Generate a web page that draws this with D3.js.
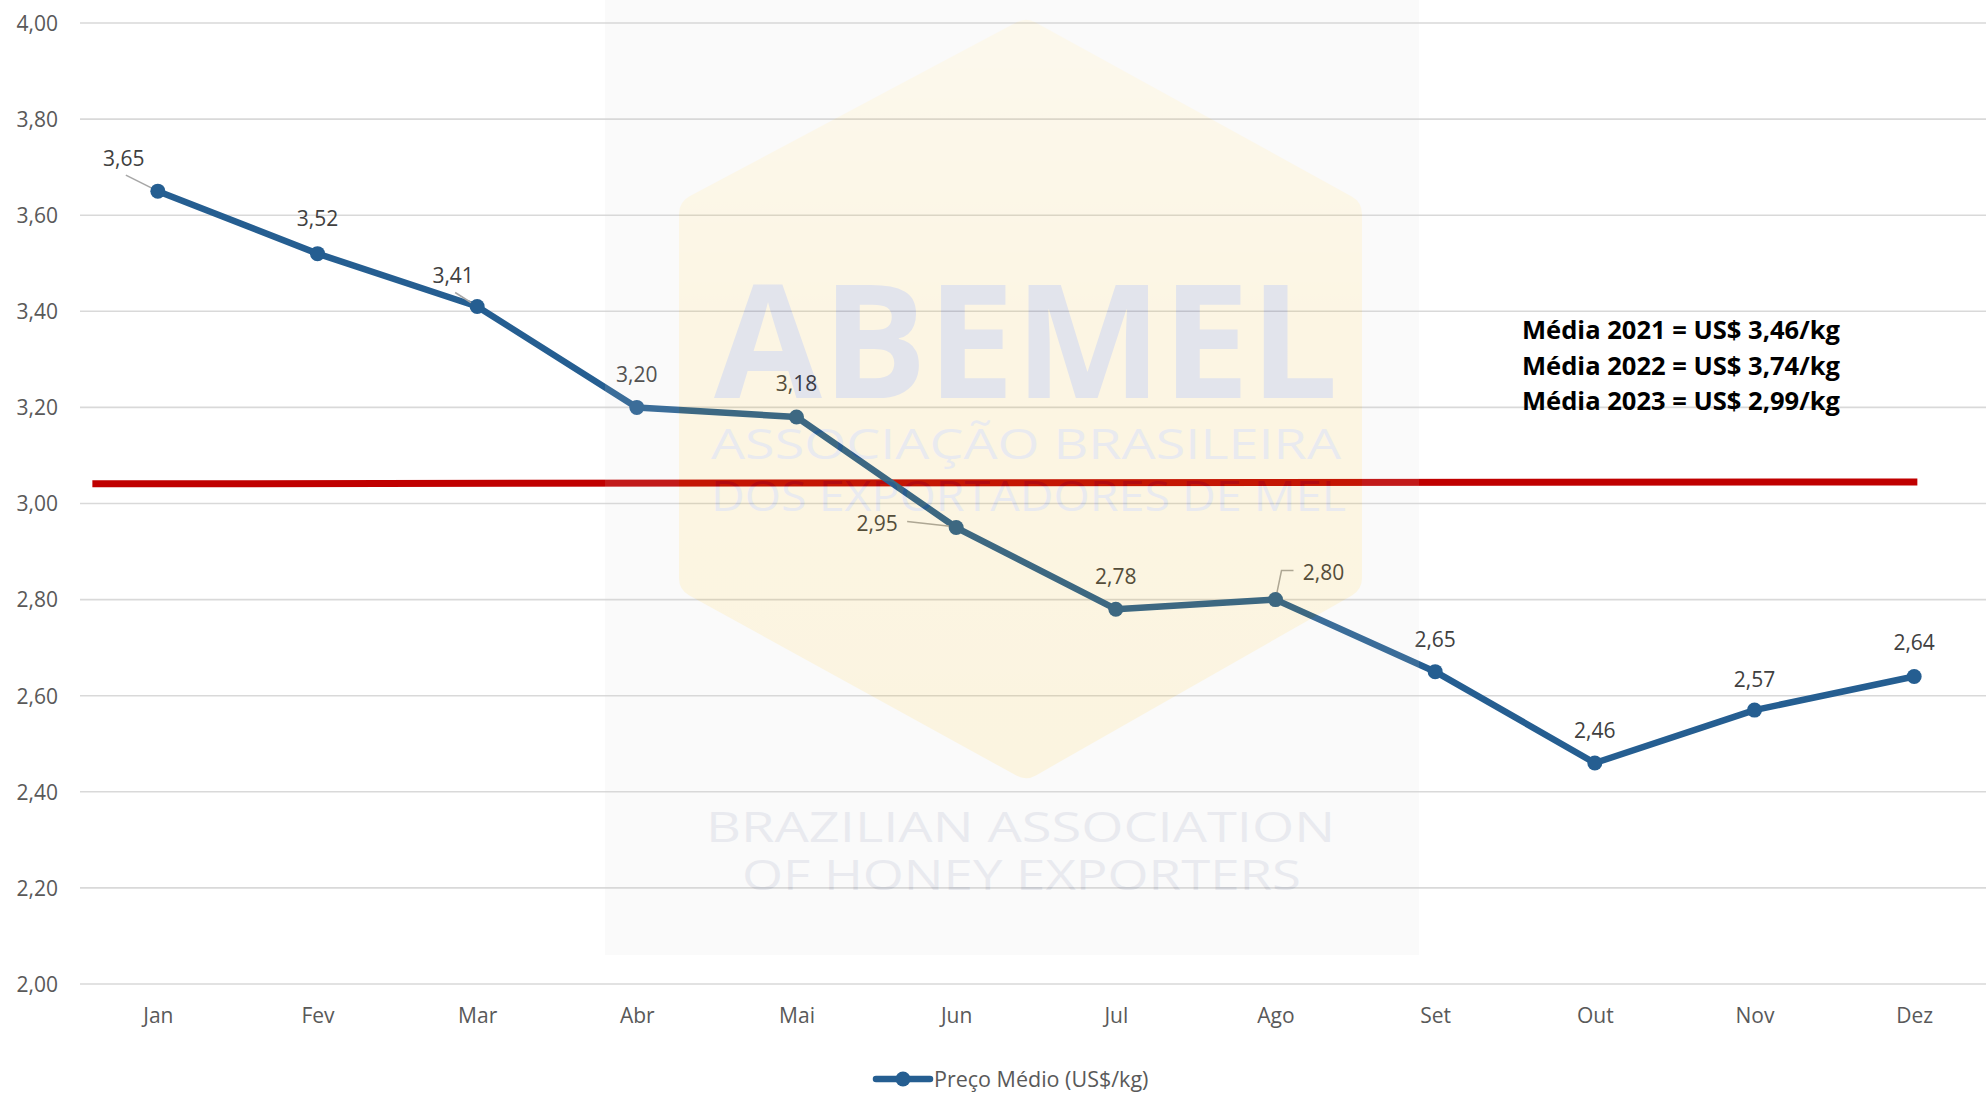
<!DOCTYPE html>
<html>
<head>
<meta charset="utf-8">
<script src="https://cdn.jsdelivr.net/npm/d3@7"></script>
<style>
  html, body { margin: 0; padding: 0; background: #ffffff; }
  svg { display: block; }
  text { font-family: "Open Sans", "Noto Sans", sans-serif; }
</style>
</head>
<body>
<script>
// ---------------- DATA ----------------
const months = ["Jan", "Fev", "Mar", "Abr", "Mai", "Jun", "Jul", "Ago", "Set", "Out", "Nov", "Dez"];
const prices = [3.65, 3.52, 3.41, 3.20, 3.18, 2.95, 2.78, 2.80, 2.65, 2.46, 2.57, 2.64];
const yTicks = [2.00, 2.20, 2.40, 2.60, 2.80, 3.00, 3.20, 3.40, 3.60, 3.80, 4.00];
const seriesName = "Preço Médio (US$/kg)";
// red reference line: values at its two ends, and its extent in month-index units
const refLineValues = [3.041, 3.045];
const refLineSpan = [-0.41, 11.02];
const noteLines = ["Média 2021 = US$ 3,46/kg", "Média 2022 = US$ 3,74/kg", "Média 2023 = US$ 2,99/kg"];
const watermarkLines = ["ABEMEL", "ASSOCIAÇÃO BRASILEIRA", "DOS EXPORTADORES DE MEL", "BRAZILIAN ASSOCIATION", "OF HONEY EXPORTERS"];

// label placement tweaks (offsets from the point, in px) and leader types
const labelLayout = [
  {dx: -34, dy: -33, leader: "diag"},
  {dx: 0, dy: -35},
  {dx: -24, dy: -31, leader: "diag"},
  {dx: 0, dy: -33},
  {dx: 0, dy: -33},
  {dx: -79, dy: -4, leader: "side"},
  {dx: 0, dy: -33},
  {dx: 48, dy: -27, leader: "elbow"},
  {dx: 0, dy: -32},
  {dx: 0, dy: -32},
  {dx: 0, dy: -30},
  {dx: 0, dy: -34}
];

// ---------------- SETUP ----------------
const W = 1986, H = 1094;
const plot = {left: 78, right: 1994, top: 23, bottom: 984};
const fmt = d3.formatLocale({decimal: ",", thousands: ".", grouping: [3], currency: ["", ""]}).format(".2f");

const svg = d3.select("body").append("svg").attr("width", W).attr("height", H);

const x = d3.scalePoint().domain(months).range([plot.left, plot.right]).padding(0.5);
const y = d3.scaleLinear().domain([2, 4]).range([plot.bottom, plot.top]);
const xIdx = d3.scaleLinear().domain([0, months.length - 1]).range([x(months[0]), x(months[months.length - 1])]);

const lineColor = "#255E91";

// gridlines
svg.append("g").selectAll("line").data(yTicks).join("line")
  .attr("x1", 80).attr("x2", W)
  .attr("y1", d => y(d)).attr("y2", d => y(d))
  .attr("stroke", "#D9D9D9").attr("stroke-width", 1.6);

// y axis labels
const yAxis = d3.axisLeft(y).tickValues(yTicks).tickFormat(fmt).tickSize(0).tickPadding(0);
const yG = svg.append("g").attr("transform", "translate(58,0)").call(yAxis);
yG.select(".domain").remove();
yG.selectAll("text").attr("font-size", 21).attr("fill", "#595959")
  .attr("font-family", "'Open Sans', sans-serif").attr("dy", "0.35em");

// x axis labels
const xAxis = d3.axisBottom(x).tickSize(0).tickPadding(0);
const xG = svg.append("g").attr("transform", "translate(0,1016)").call(xAxis);
xG.select(".domain").remove();
xG.selectAll("text").attr("font-size", 21).attr("fill", "#595959")
  .attr("font-family", "'Open Sans', sans-serif").attr("dy", "0.35em");

// red reference line
svg.append("line")
  .attr("x1", xIdx(refLineSpan[0])).attr("x2", xIdx(refLineSpan[1]))
  .attr("y1", y(refLineValues[0])).attr("y2", y(refLineValues[1]))
  .attr("stroke", "#C00000").attr("stroke-width", 7);

// series line
const pts = months.map((m, i) => ({m, v: prices[i], i}));
svg.append("path").datum(pts)
  .attr("d", d3.line().x(d => x(d.m)).y(d => y(d.v)))
  .attr("fill", "none").attr("stroke", lineColor).attr("stroke-width", 6.5)
  .attr("stroke-linejoin", "round");

// leaders
const leaderG = svg.append("g").attr("stroke", "#A6A6A6").attr("stroke-width", 1.5).attr("fill", "none");
pts.forEach(d => {
  const L = labelLayout[d.i];
  if (!L.leader) return;
  const px = x(d.m), py = y(d.v), lx = px + L.dx, ly = py + L.dy;
  let p;
  if (L.leader === "diag") p = [[lx + 2, ly + 17], [px, py]];
  else if (L.leader === "side") p = [[lx + 30, ly - 2], [px - 4, py - 1]];
  else p = [[px, py], [px + 6, ly - 2], [lx - 30, ly - 2]];
  leaderG.append("path").attr("d", d3.line()(p));
});

// markers
svg.append("g").selectAll("circle").data(pts).join("circle")
  .attr("cx", d => x(d.m)).attr("cy", d => y(d.v)).attr("r", 7.5)
  .attr("fill", lineColor);

// data labels
svg.append("g").selectAll("text").data(pts).join("text")
  .attr("x", d => x(d.m) + labelLayout[d.i].dx)
  .attr("y", d => y(d.v) + labelLayout[d.i].dy)
  .attr("dy", "0.35em").attr("text-anchor", "middle")
  .attr("font-size", 21).attr("fill", "#404040")
  .text(d => fmt(d.v));

// annotation
svg.append("g").selectAll("text").data(noteLines).join("text")
  .attr("x", 1522).attr("y", (d, i) => 339 + i * 35.7)
  .attr("font-size", 25).attr("font-weight", "bold").attr("fill", "#000000")
  .attr("textLength", 318).attr("lengthAdjust", "spacingAndGlyphs")
  .text(d => d);

// legend
const lg = svg.append("g");
lg.append("line").attr("x1", 876).attr("x2", 930).attr("y1", 1079).attr("y2", 1079)
  .attr("stroke", lineColor).attr("stroke-width", 6.5).attr("stroke-linecap", "round");
lg.append("circle").attr("cx", 903).attr("cy", 1079).attr("r", 7.5).attr("fill", lineColor);
lg.append("text").attr("x", 934).attr("y", 1079).attr("dy", "0.35em")
  .attr("font-size", 21.5).attr("fill", "#595959").text(seriesName);

// ---------------- WATERMARK (overlaid, translucent as a whole) ----------------
const wmAlpha = 0.12;
const wm = svg.append("g").attr("pointer-events", "none").attr("opacity", wmAlpha);
wm.append("rect").attr("x", 605).attr("y", 0).attr("width", 814).attr("height", 955)
  .attr("fill", "rgb(215,215,215)");
const defs = svg.append("defs");
const grad = defs.append("linearGradient").attr("id", "hexg").attr("x1", 0).attr("y1", 0).attr("x2", 0).attr("y2", 1);
grad.append("stop").attr("offset", "0%").attr("stop-color", "rgb(238,205,110)");
grad.append("stop").attr("offset", "40%").attr("stop-color", "rgb(232,180,35)");
grad.append("stop").attr("offset", "100%").attr("stop-color", "rgb(230,172,10)");
const hex = [[1026, 40], [1342, 214], [1342, 578], [1026, 758], [699, 578], [699, 214]];
wm.append("path").attr("d", d3.line().curve(d3.curveLinearClosed)(hex))
  .attr("fill", "url(#hexg)").attr("stroke", "url(#hexg)")
  .attr("stroke-width", 40).attr("stroke-linejoin", "round");

const wmSpecs = [
  {x: 714, y: 398, len: 624, size: 158, weight: "bold", color: "rgb(25,40,110)"},
  {x: 711, y: 459, len: 630, size: 42, weight: "normal", color: "rgb(80,90,130)"},
  {x: 711, y: 511, len: 635, size: 42, weight: "normal", color: "rgb(80,90,130)"},
  {x: 706, y: 842, len: 629, size: 42, weight: "normal", color: "rgb(80,90,130)"},
  {x: 742, y: 890, len: 559, size: 42, weight: "normal", color: "rgb(80,90,130)"}
];
wm.selectAll("text.wm").data(watermarkLines).join("text").attr("class", "wm")
  .attr("x", (d, i) => wmSpecs[i].x).attr("y", (d, i) => wmSpecs[i].y)
  .attr("font-family", "'Liberation Sans Narrow', 'DejaVu Sans Condensed', 'Open Sans', sans-serif")
  .attr("font-size", (d, i) => wmSpecs[i].size).attr("font-weight", (d, i) => wmSpecs[i].weight)
  .attr("textLength", (d, i) => wmSpecs[i].len).attr("lengthAdjust", "spacingAndGlyphs")
  .attr("fill", (d, i) => wmSpecs[i].color)
  .text(d => d);
</script>
</body>
</html>
